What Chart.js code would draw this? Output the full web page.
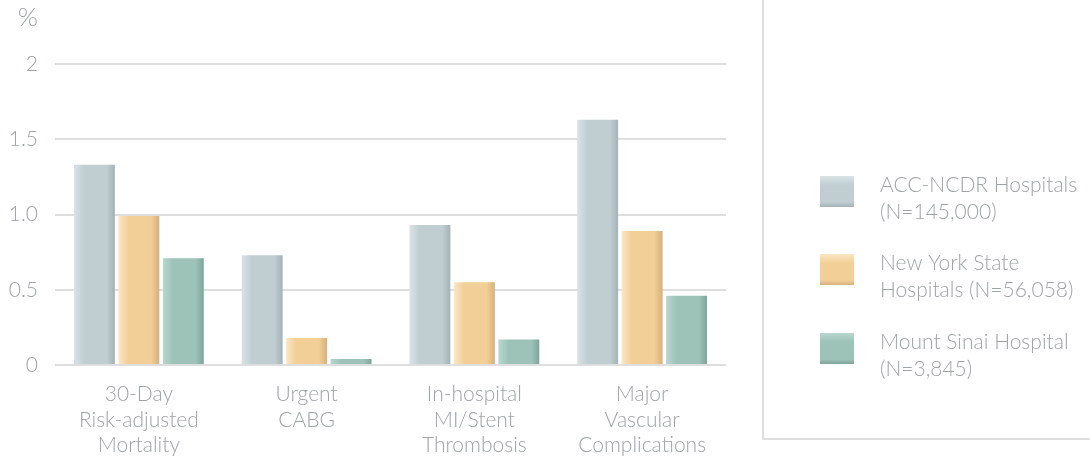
<!DOCTYPE html>
<html>
<head>
<meta charset="utf-8">
<script src="https://cdn.jsdelivr.net/npm/chart.js@4"></script>
<style>
  html, body { margin: 0; padding: 0; background: #ffffff; }
  #wrap { position: relative; width: 1090px; height: 457px; }
</style>
</head>
<body>
<div id="wrap"><canvas id="c" width="1090" height="457"></canvas></div>
<script>
// ---- data ----
const categories = [
  ["30-Day", "Risk-adjusted", "Mortality"],
  ["Urgent", "CABG"],
  ["In-hospital", "MI/Stent", "Thrombosis"],
  ["Major", "Vascular", "Complications"]
];
const seriesNames = [
  ["ACC-NCDR Hospitals", "(N=145,000)"],
  ["New York State", "Hospitals (N=56,058)"],
  ["Mount Sinai Hospital", "(N=3,845)"]
];
const accNcdr = [1.33, 0.73, 0.93, 1.63];
const nyState = [0.99, 0.18, 0.55, 0.89];
const mountSinai = [0.71, 0.04, 0.17, 0.46];
const yTickValues = [0, 0.5, 1.0, 1.5, 2];
const yTickLabels = ["0", "0.5", "1.0", "1.5", "2"];
const yUnit = "%";

// ---- styles ----
const FONT = "Lato, 'Open Sans', sans-serif";
const WEIGHT = "300";
const TEXT = "#9ea3a8";
const GRID = "#dedede";
const palettes = [
  { light: "#d9e3e5", mid: "#c0ced2", dark: "#a4b2b7" },
  { light: "#fbe6c4", mid: "#f2cf96", dark: "#d6b07c" },
  { light: "#b8d6ce", mid: "#9dc3b9", dark: "#7fa59b" }
];

function hGrad(ctx, x0, x1, p) {
  const g = ctx.createLinearGradient(x0, 0, x1, 0);
  g.addColorStop(0, p.light);
  g.addColorStop(0.25, p.mid);
  g.addColorStop(0.8, p.mid);
  g.addColorStop(1, p.dark);
  return g;
}
function vGrad(ctx, y0, y1, p) {
  const g = ctx.createLinearGradient(0, y0, 0, y1);
  g.addColorStop(0, p.light);
  g.addColorStop(0.3, p.mid);
  g.addColorStop(0.85, p.mid);
  g.addColorStop(1, p.dark);
  return g;
}

const gradientBars = {
  id: "gradientBars",
  beforeDatasetDraw(chart, args) {
    const ctx = chart.ctx;
    const p = palettes[args.index];
    const meta = chart.getDatasetMeta(args.index);
    meta.data.forEach(el => {
      const x0 = el.x - el.width / 2, x1 = el.x + el.width / 2;
      try { el.options.backgroundColor = hGrad(ctx, x0, x1, p); } catch (e) {}
    });
  }
};

const extras = {
  id: "extras",
  afterDraw(chart) {
    const ctx = chart.ctx;
    ctx.save();
    // unit label
    ctx.font = WEIGHT + " 26px " + FONT;
    ctx.fillStyle = TEXT;
    ctx.textAlign = "right";
    ctx.textBaseline = "middle";
    ctx.fillText(yUnit, 38, 18);
    // legend box borders
    ctx.strokeStyle = GRID;
    ctx.lineWidth = 2;
    ctx.beginPath();
    ctx.moveTo(763, 0);
    ctx.lineTo(763, 439);
    ctx.lineTo(1090, 439);
    ctx.stroke();
    // legend items
    const tops = [176, 254, 333];
    chart.data.datasets.forEach((ds, i) => {
      const y = tops[i];
      ctx.fillStyle = vGrad(ctx, y, y + 31, palettes[i]);
      ctx.fillRect(820, y, 34, 31);
      ctx.fillStyle = TEXT;
      ctx.textAlign = "left";
      ctx.textBaseline = "top";
      ctx.font = WEIGHT + " 21px " + FONT;
      const lines = seriesNames[i];
      lines.forEach((t, j) => ctx.fillText(t, 880, y - 1 + j * 27));
    });
    ctx.restore();
  }
};

const scriptColor = (i) => (c) => palettes[i].mid;

new Chart(document.getElementById("c"), {
  type: "bar",
  data: {
    labels: categories,
    datasets: [
      { label: seriesNames[0].join(" "), data: accNcdr, backgroundColor: scriptColor(0) },
      { label: seriesNames[1].join(" "), data: nyState, backgroundColor: scriptColor(1) },
      { label: seriesNames[2].join(" "), data: mountSinai, backgroundColor: scriptColor(2) }
    ]
  },
  plugins: [gradientBars, extras],
  options: {
    responsive: false,
    animation: false,
    layout: { padding: { top: 64, right: 364, left: 0, bottom: 0 } },
    datasets: { bar: { categoryPercentage: 0.795, barPercentage: 0.92, borderWidth: 0 } },
    plugins: { legend: { display: false }, tooltip: { enabled: false }, title: { display: false } },
    scales: {
      x: {
        grid: { display: false, drawTicks: false },
        border: { display: false },
        ticks: { color: TEXT, font: { family: FONT, size: 21, weight: WEIGHT, lineHeight: 1.2 }, padding: 17, maxRotation: 0, autoSkip: false },
        afterFit(s) { s.height = 92; }
      },
      y: {
        min: 0, max: 2,
        afterBuildTicks(s) { s.ticks = yTickValues.map(v => ({ value: v })); },
        grid: { color: GRID, lineWidth: 2, drawTicks: false },
        border: { display: false },
        ticks: {
          color: TEXT, font: { family: FONT, size: 21, weight: WEIGHT }, padding: 17,
          callback(v) { const k = yTickValues.indexOf(v); return k >= 0 ? yTickLabels[k] : ""; }
        },
        afterFit(s) { s.width = 55; }
      }
    }
  }
});
</script>
</body>
</html>
